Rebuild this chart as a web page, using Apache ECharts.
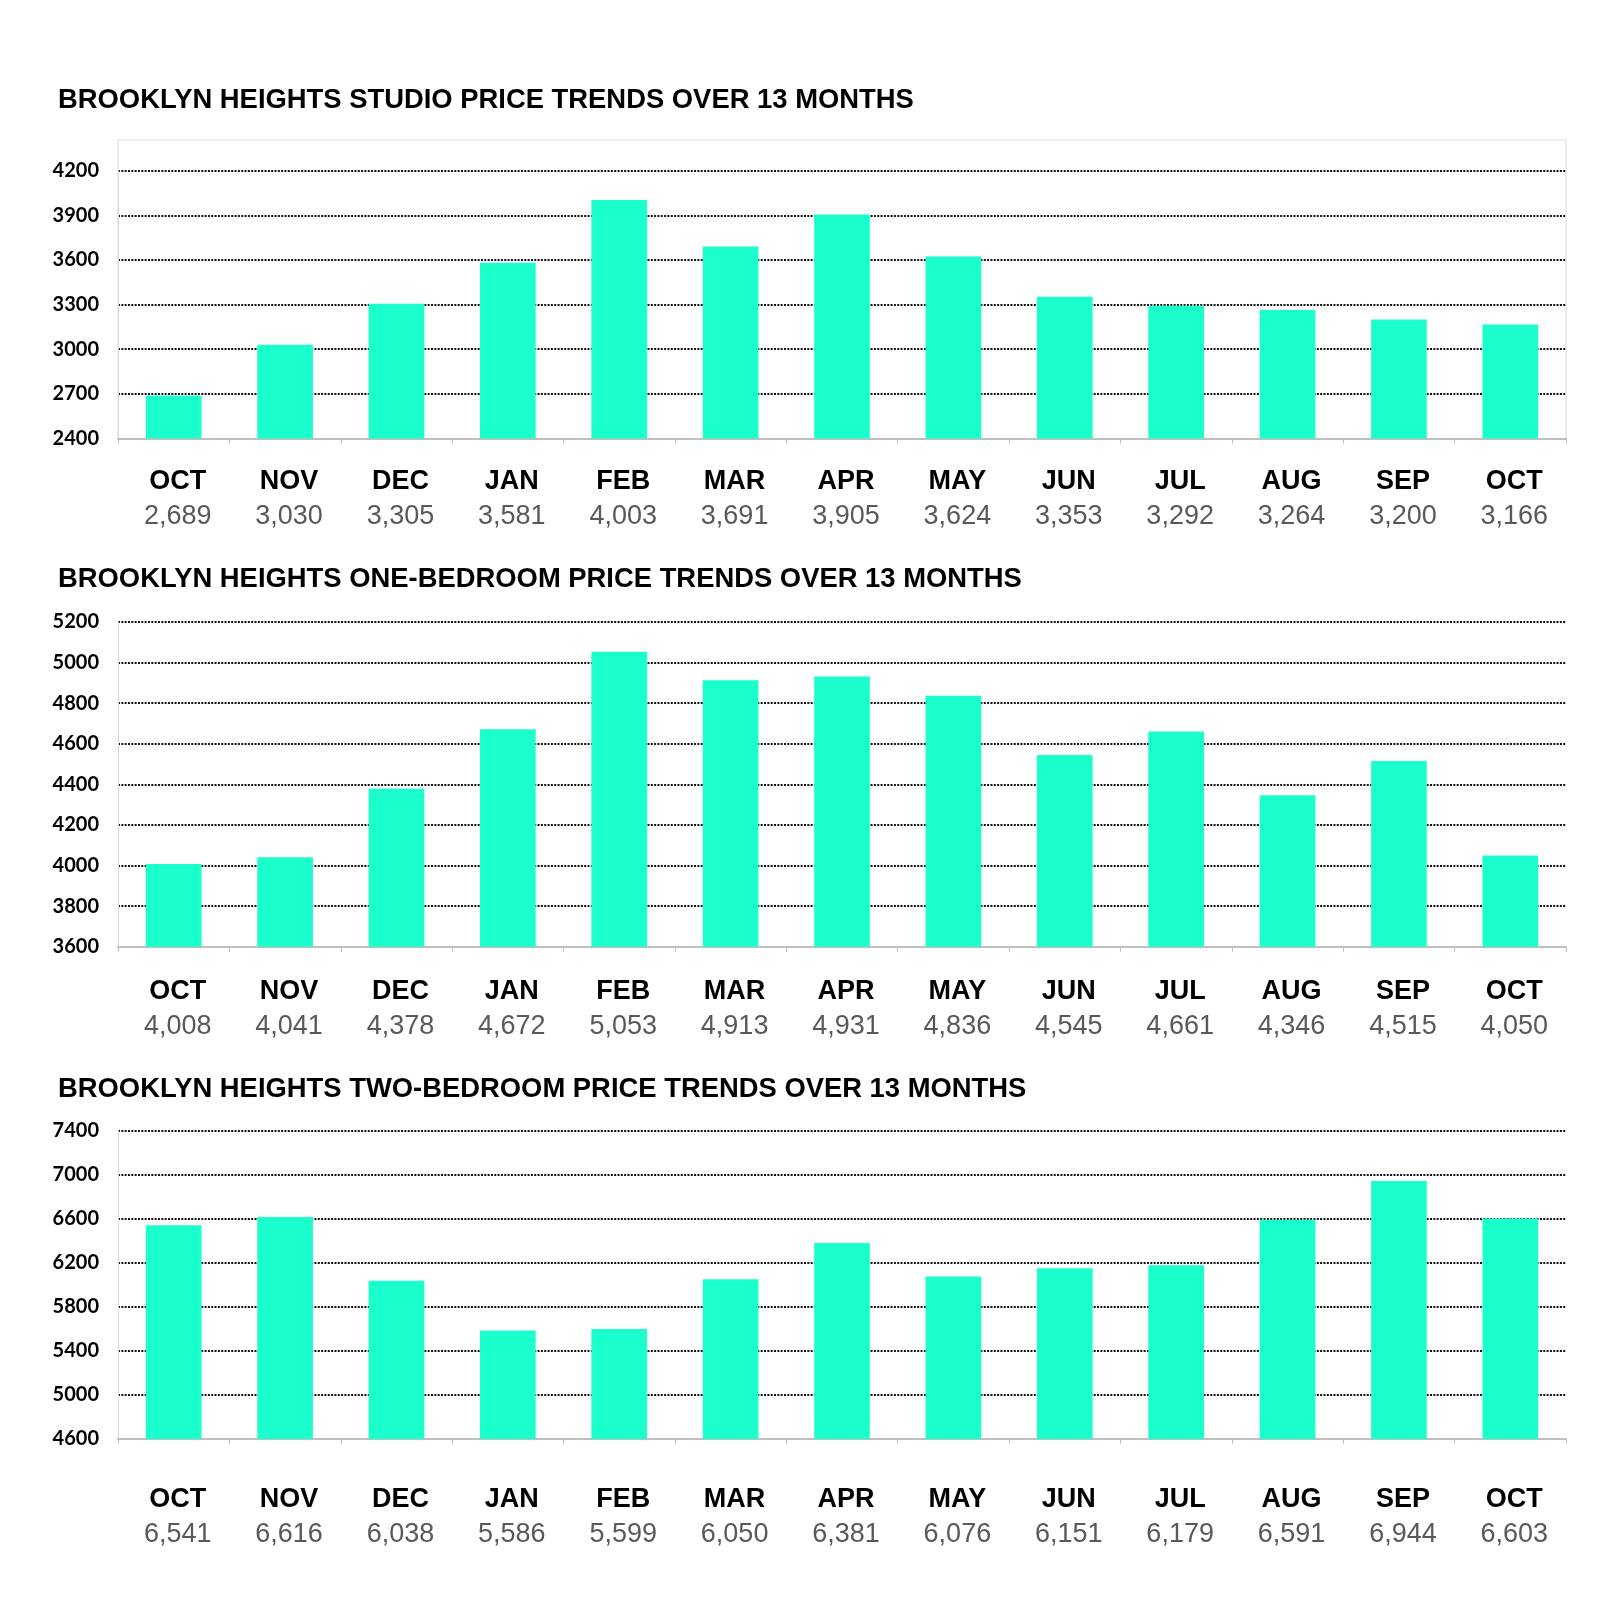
<!DOCTYPE html>
<html>
<head>
<meta charset="utf-8">
<script src="https://cdn.jsdelivr.net/npm/echarts@6/dist/echarts.min.js"></script>
<style>
html,body{margin:0;padding:0;background:#fff;}
#chart{width:1600px;height:1615px;}
</style>
</head>
<body>
<div id="chart"></div>
<script>
const months = ['OCT','NOV','DEC','JAN','FEB','MAR','APR','MAY','JUN','JUL','AUG','SEP','OCT'];
const studioValues = [2689, 3030, 3305, 3581, 4003, 3691, 3905, 3624, 3353, 3292, 3264, 3200, 3166];
const oneBedValues = [4008, 4041, 4378, 4672, 5053, 4913, 4931, 4836, 4545, 4661, 4346, 4515, 4050];
const twoBedValues = [6541, 6616, 6038, 5586, 5599, 6050, 6381, 6076, 6151, 6179, 6591, 6944, 6603];
const titles = [
  'BROOKLYN HEIGHTS STUDIO PRICE TRENDS OVER 13 MONTHS',
  'BROOKLYN HEIGHTS ONE-BEDROOM PRICE TRENDS OVER 13 MONTHS',
  'BROOKLYN HEIGHTS TWO-BEDROOM PRICE TRENDS OVER 13 MONTHS'
];
const yMins = [2400, 3600, 4600];
const yMaxs = [4200, 5200, 7400];
const yIntervals = [300, 200, 400];

const seriesValues = [studioValues, oneBedValues, twoBedValues];
const layout = [
  {titleTop: 82, gridTop: 170.7, gridHeight: 267.8, margin: 26},
  {titleTop: 561, gridTop: 622, gridHeight: 324.7, margin: 27},
  {titleTop: 1071, gridTop: 1130.7, gridHeight: 308.3, margin: 43.5}
];
const BAR = '#1affcc';
const fmt = v => v.toLocaleString('en-US');

const option = {
  animation: false,
  backgroundColor: '#ffffff',
  title: layout.map((l, i) => ({
    text: titles[i], left: 58, top: l.titleTop, padding: 0,
    textStyle: {fontFamily: 'Liberation Sans', fontWeight: 'bold', fontSize: 27.4, color: '#000', lineHeight: 36}
  })),
  graphic: [{
    type: 'rect', shape: {x: 118, y: 140, width: 1448, height: 298.5},
    style: {fill: 'none', stroke: '#d9d9d9', lineWidth: 1}, z: 0, silent: true
  }],
  grid: layout.map(l => ({left: 118, right: 34, top: l.gridTop, height: l.gridHeight})),
  xAxis: layout.map((l, i) => ({
    type: 'category', gridIndex: i, data: months,
    axisLine: {show: true, lineStyle: {color: '#bfbfbf', width: 2}},
    axisTick: {show: true, length: 5, lineStyle: {color: '#bfbfbf', width: 1}},
    axisLabel: {
      interval: 0, margin: l.margin, padding: [0, 0, 0, 8],
      formatter: (v, idx) => '{m|' + v + '}\n{v|' + fmt(seriesValues[i][idx]) + '}',
      rich: {
        m: {fontFamily: 'Liberation Sans', fontWeight: 'bold', fontSize: 27, color: '#000', lineHeight: 35, align: 'center'},
        v: {fontFamily: 'Liberation Sans', fontSize: 27, color: '#595959', lineHeight: 35, align: 'center'}
      }
    }
  })),
  yAxis: layout.map((l, i) => ({
    type: 'value', gridIndex: i, min: yMins[i], max: yMaxs[i], interval: yIntervals[i],
    axisLine: {show: true, lineStyle: {color: '#d9d9d9', width: 1}},
    axisTick: {show: false},
    axisLabel: {fontFamily: 'Lato', fontWeight: 'bold', fontSize: 20, color: '#000', margin: 19,
      formatter: v => String(v)},
    splitLine: {show: true, lineStyle: {color: '#111', width: 2, type: [2, 1.33]}}
  })),
  series: seriesValues.map((vals, i) => ({
    type: 'bar', xAxisIndex: i, yAxisIndex: i, data: vals,
    barWidth: '50%', itemStyle: {color: BAR}, z: 3
  }))
};

const chart = echarts.init(document.getElementById('chart'), null, {renderer: 'canvas'});
chart.setOption(option);
</script>
</body>
</html>
